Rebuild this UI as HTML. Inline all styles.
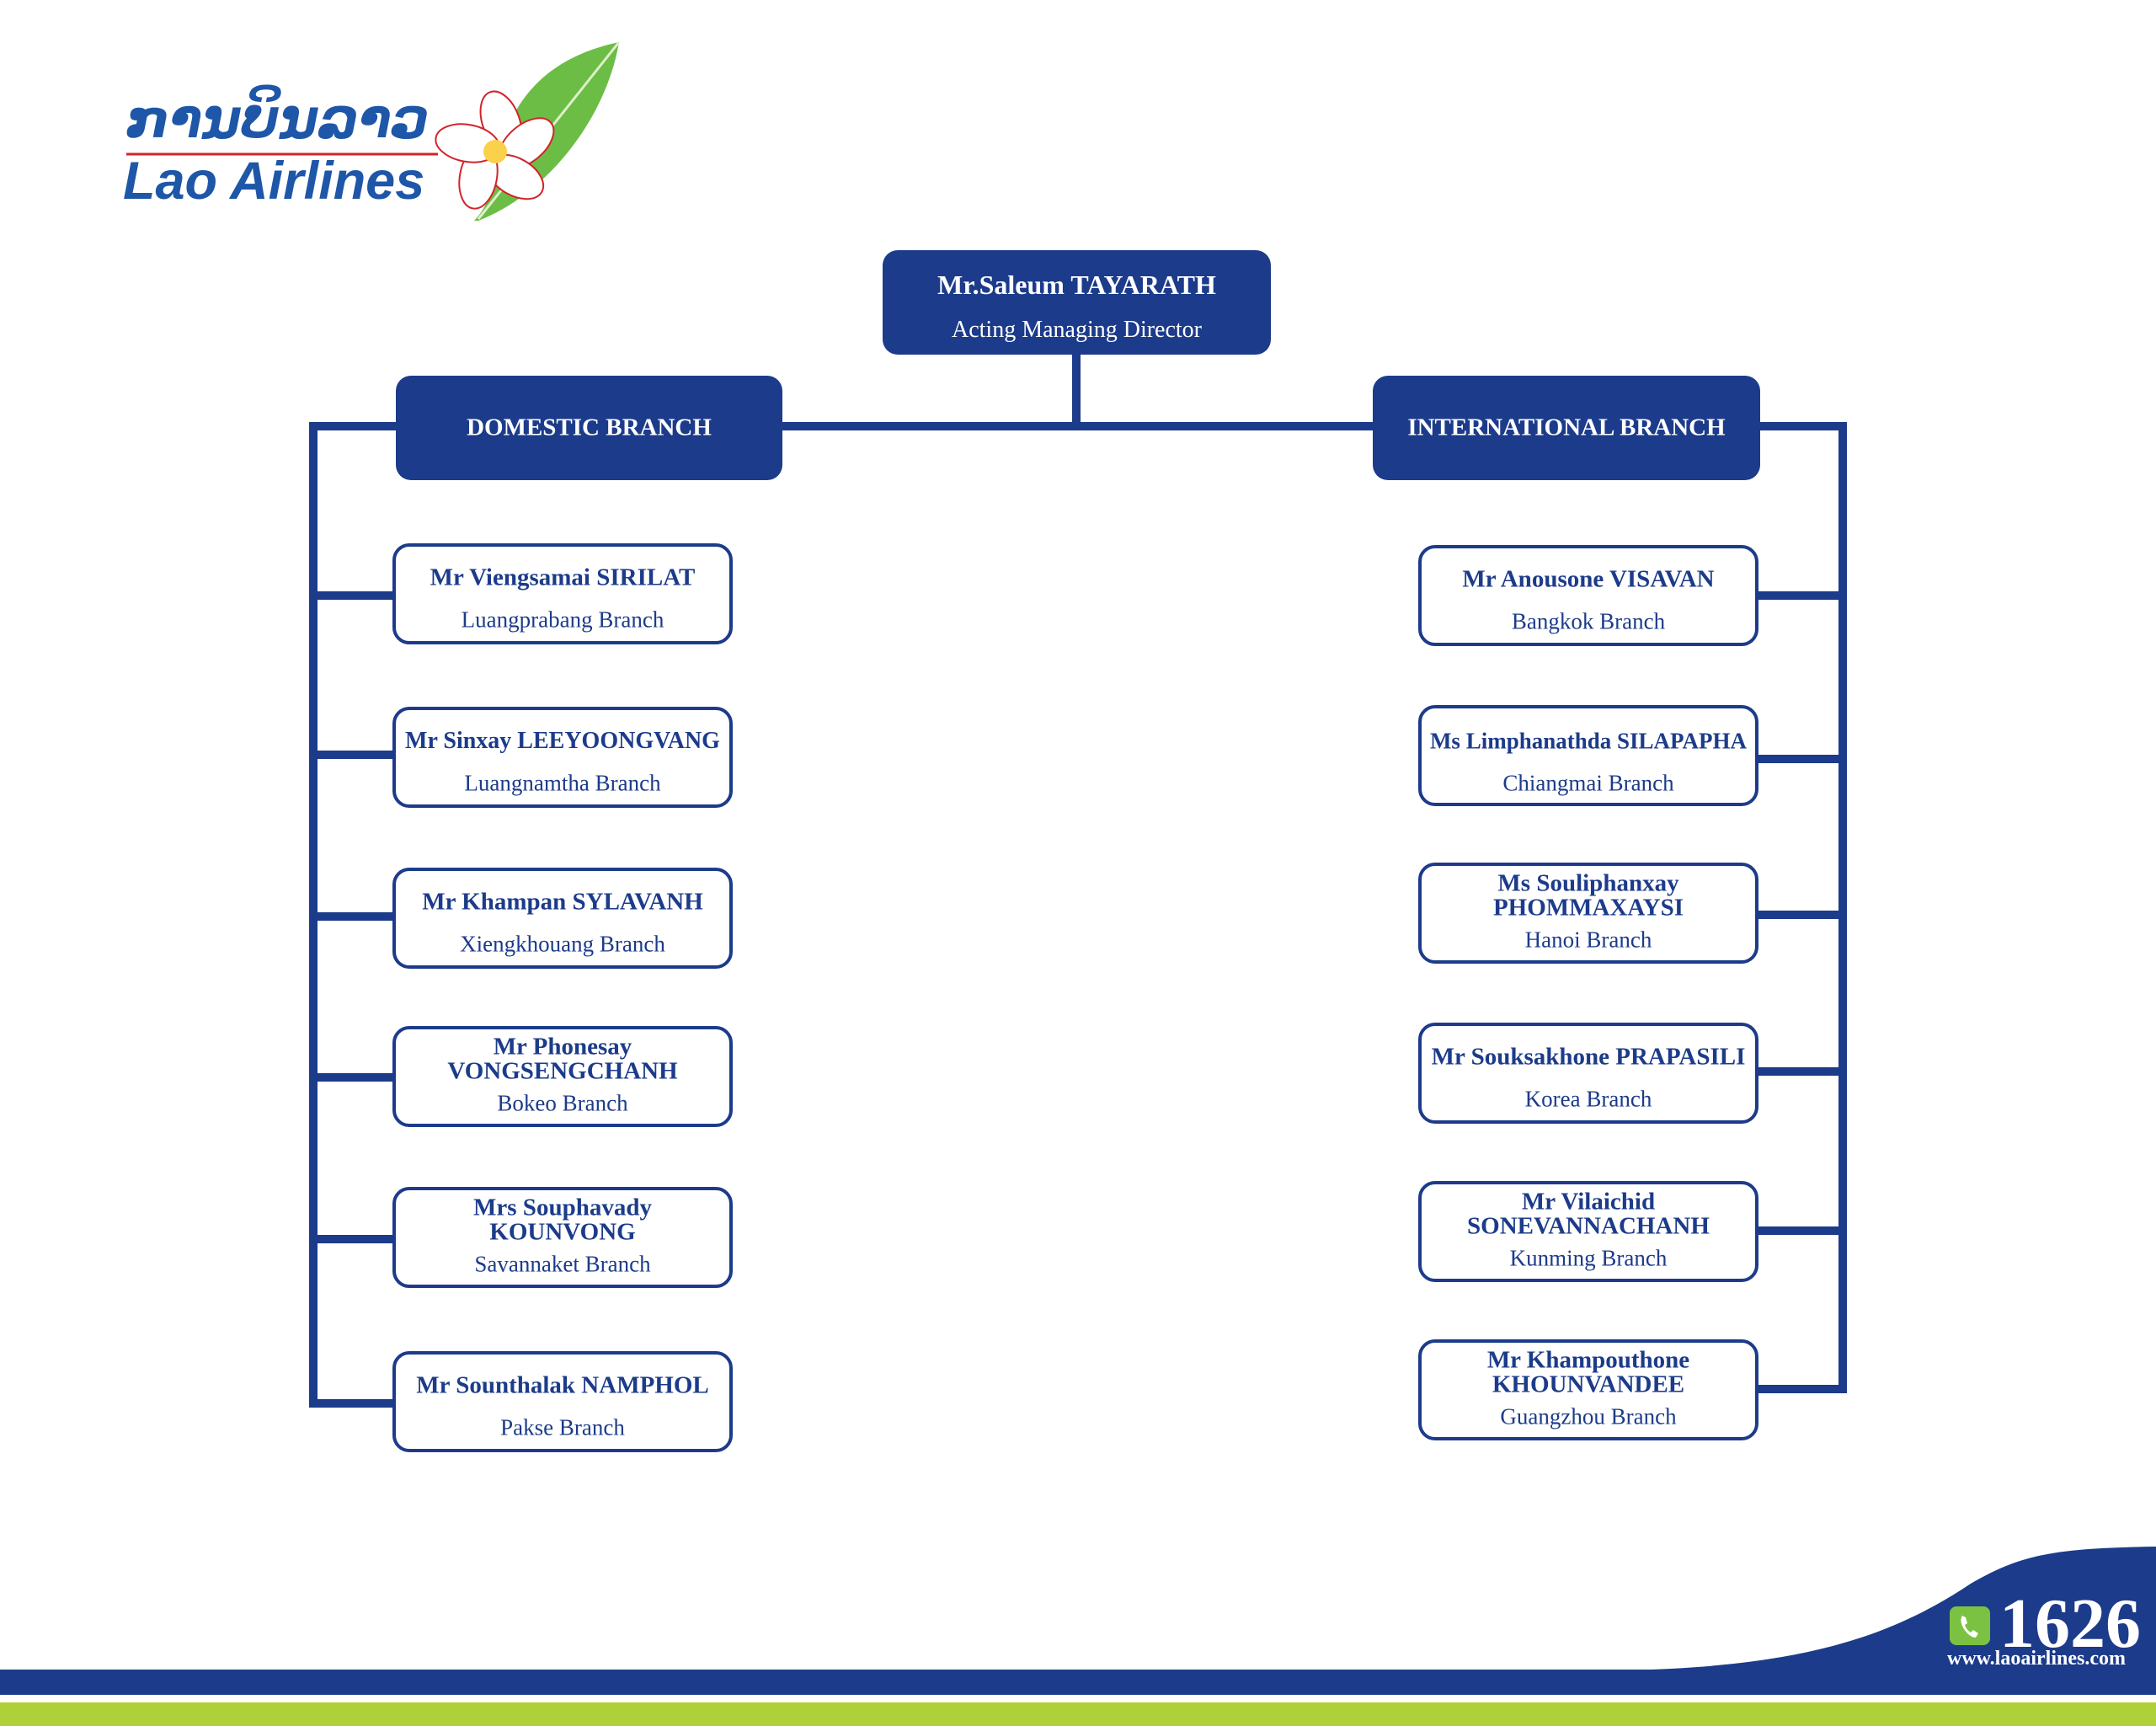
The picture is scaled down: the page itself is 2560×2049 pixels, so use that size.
<!DOCTYPE html>
<html><head><meta charset="utf-8"><style>
*{margin:0;padding:0;box-sizing:border-box}
body{width:2560px;height:2049px;background:#fff;position:relative;overflow:hidden;font-family:"Liberation Serif",serif;color:#1c3b8a}
.b{position:absolute;border:4px solid #1c3b8a;border-radius:20px;background:#fff}
.t{position:absolute;left:0;right:0;text-align:center;white-space:nowrap;line-height:1;transform:translateY(-50%)}
.n{font-weight:bold;font-size:29px}
.s{font-size:27px}
.f{position:absolute;background:#1c3b8a;border-radius:18px;color:#fff}
</style></head><body>
<svg width="2560" height="2049" style="position:absolute;left:0;top:0">
<g fill="#1c3b8a">
<rect x="1273" y="415" width="10" height="92"/>
<rect x="367" y="501" width="1826" height="10"/>
<rect x="367" y="501" width="10" height="1170"/>
<rect x="2183" y="501" width="10" height="1153"/>
<rect x="367" y="702" width="102" height="10"/>
<rect x="367" y="891" width="102" height="10"/>
<rect x="367" y="1083" width="102" height="10"/>
<rect x="367" y="1274" width="102" height="10"/>
<rect x="367" y="1466" width="102" height="10"/>
<rect x="367" y="1661" width="102" height="10"/>
<rect x="2085" y="702" width="108" height="10"/>
<rect x="2085" y="896" width="108" height="10"/>
<rect x="2085" y="1081" width="108" height="10"/>
<rect x="2085" y="1267" width="108" height="10"/>
<rect x="2085" y="1456" width="108" height="10"/>
<rect x="2085" y="1644" width="108" height="10"/>
<path d="M0 1982 L1960 1982 C2150 1975 2250 1940 2340 1880 C2400 1845 2440 1838 2560 1836 L2560 2012 L0 2012 Z"/>
</g>
<rect x="0" y="2021" width="2560" height="28" fill="#b0d039"/>
<rect x="2315" y="1907" width="48" height="46" rx="8" fill="#7cc242"/>
<path d="M2330 1918 q-4 6 2 16 q7 10 14 10 l3-5 -6-4 -3 3 q-5-3-7-9 l3-2 -2-7z" fill="#fff"/>
<!-- logo -->
<line x1="150" y1="183" x2="520" y2="183" stroke="#d2232a" stroke-width="3"/>
<path d="M735 50 C640 70 600 130 590 200 C585 230 575 250 563 262 L568 262 C650 230 720 140 735 50Z" fill="#6cbd45"/>
<path d="M735 50 L568 260" stroke="#dff0c8" stroke-width="3" fill="none"/>
<g fill="#fff" stroke="#d2232a" stroke-width="2">
<ellipse cx="595" cy="145" rx="22" ry="38" transform="rotate(-20 595 145)"/>
<ellipse cx="625" cy="170" rx="22" ry="38" transform="rotate(50 625 170)"/>
<ellipse cx="612" cy="210" rx="22" ry="36" transform="rotate(120 612 210)"/>
<ellipse cx="568" cy="210" rx="22" ry="38" transform="rotate(190 568 210)"/>
<ellipse cx="555" cy="170" rx="22" ry="38" transform="rotate(-80 555 170)"/>
</g>
<circle cx="588" cy="180" r="14" fill="#fbd04a"/>
</svg>
<div style="position:absolute;left:150px;top:110px;font:italic bold 63px 'DejaVu Sans',sans-serif;color:#1e56a8;line-height:1">ການບິນລາວ</div>
<div style="position:absolute;left:146px;top:184px;font:italic 900 63px 'Liberation Sans',sans-serif;color:#1e56a8;line-height:1">Lao Airlines</div>
<div style="position:absolute;left:2374px;top:1886px;font:bold 84px 'Liberation Serif',serif;color:#fff;line-height:1">1626</div>
<div style="position:absolute;left:2312px;top:1957px;font:bold 24px 'Liberation Serif',serif;color:#fff;line-height:1">www.laoairlines.com</div>

<div class="f" style="left:1048px;top:297px;width:461px;height:124px">
<div class="t" style="top:41px;font-weight:bold;font-size:32px">Mr.Saleum TAYARATH</div>
<div class="t" style="top:95px;font-size:28px">Acting Managing Director</div></div>
<div class="f" style="left:470px;top:446px;width:459px;height:124px"><div class="t" style="top:62px;font-weight:bold;font-size:29px">DOMESTIC BRANCH</div></div>
<div class="f" style="left:1630px;top:446px;width:460px;height:124px"><div class="t" style="top:62px;font-weight:bold;font-size:29px">INTERNATIONAL BRANCH</div></div>

<div class="b" style="left:466px;top:645px;width:404px;height:120px"><div class="t n" style="top:37px">Mr Viengsamai SIRILAT</div><div class="t s" style="top:87px">Luangprabang Branch</div></div>
<div class="b" style="left:466px;top:839px;width:404px;height:120px"><div class="t n" style="top:37px;font-size:28px">Mr Sinxay LEEYOONGVANG</div><div class="t s" style="top:87px">Luangnamtha Branch</div></div>
<div class="b" style="left:466px;top:1030px;width:404px;height:120px"><div class="t n" style="top:37px">Mr Khampan SYLAVANH</div><div class="t s" style="top:87px">Xiengkhouang Branch</div></div>
<div class="b" style="left:466px;top:1218px;width:404px;height:120px"><div class="t n" style="top:21px">Mr Phonesay</div><div class="t n" style="top:50px">VONGSENGCHANH</div><div class="t s" style="top:88px">Bokeo Branch</div></div>
<div class="b" style="left:466px;top:1409px;width:404px;height:120px"><div class="t n" style="top:21px">Mrs Souphavady</div><div class="t n" style="top:50px">KOUNVONG</div><div class="t s" style="top:88px">Savannaket Branch</div></div>
<div class="b" style="left:466px;top:1604px;width:404px;height:120px"><div class="t n" style="top:37px">Mr Sounthalak NAMPHOL</div><div class="t s" style="top:87px">Pakse Branch</div></div>

<div class="b" style="left:1684px;top:647px;width:404px;height:120px"><div class="t n" style="top:37px">Mr Anousone VISAVAN</div><div class="t s" style="top:87px">Bangkok Branch</div></div>
<div class="b" style="left:1684px;top:837px;width:404px;height:120px"><div class="t n" style="top:39px;font-size:27px">Ms Limphanathda SILAPAPHA</div><div class="t s" style="top:89px">Chiangmai Branch</div></div>
<div class="b" style="left:1684px;top:1024px;width:404px;height:120px"><div class="t n" style="top:21px">Ms Souliphanxay</div><div class="t n" style="top:50px">PHOMMAXAYSI</div><div class="t s" style="top:88px">Hanoi Branch</div></div>
<div class="b" style="left:1684px;top:1214px;width:404px;height:120px"><div class="t n" style="top:37px">Mr Souksakhone PRAPASILI</div><div class="t s" style="top:87px">Korea Branch</div></div>
<div class="b" style="left:1684px;top:1402px;width:404px;height:120px"><div class="t n" style="top:21px">Mr Vilaichid</div><div class="t n" style="top:50px">SONEVANNACHANH</div><div class="t s" style="top:88px">Kunming Branch</div></div>
<div class="b" style="left:1684px;top:1590px;width:404px;height:120px"><div class="t n" style="top:21px">Mr Khampouthone</div><div class="t n" style="top:50px">KHOUNVANDEE</div><div class="t s" style="top:88px">Guangzhou Branch</div></div>
</body></html>
